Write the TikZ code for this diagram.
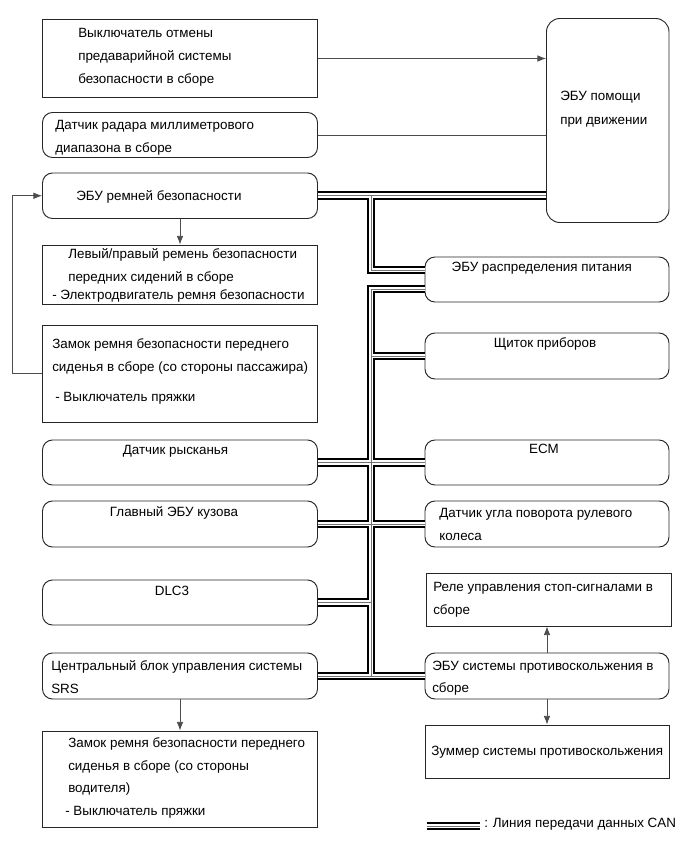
\documentclass[tikz,border=0pt]{standalone}
\usepackage{fontspec}
\setmainfont{Liberation Sans}
\usetikzlibrary{arrows.meta,calc,fit,positioning}

\tikzset{
  sqbox/.style={draw=black!85, line width=0.7pt, inner sep=0pt},
  rndbox/.style={sqbox, rounded corners=7.5pt},
  txt/.style={anchor=base west, inner sep=0pt, font=\fontsize{10.05}{12}\selectfont},
  ctxt/.style={txt, anchor=base},
  sig/.style={draw=black!70, line width=0.6pt},
  sigarrow/.style={sig, -{Latex[length=6.5pt,width=5pt]}},
}

\begin{document}
\begin{tikzpicture}[x=0.75pt,y=-0.75pt]
\useasboundingbox (0,0) rectangle (691,854);

% left column
\node[sqbox, fit={(42.5,19.5) (317.5,97.5)}] (sw) {};
\node[rndbox, fit={(42.5,112.5) (317.5,157.5)}] (radar) {};
\node[rndbox, fit={(42.5,173) (317.5,218.5)}] (belt) {};
\node[sqbox, fit={(42.5,245) (317.5,304)}] (beltmot) {};
\node[sqbox, fit={(42.5,325) (317.5,422)}] (buckleP) {};
\node[rndbox, fit={(42.5,440) (317.5,485)}] (yaw) {};
\node[rndbox, fit={(42.5,501) (317.5,547)}] (body) {};
\node[rndbox, fit={(42.5,580) (317.5,625)}] (dlc) {};
\node[rndbox, fit={(42.5,653) (317.5,699)}] (srs) {};
\node[sqbox, fit={(42.5,731) (317.5,827)}] (buckleD) {};
% right column
\node[rndbox, rounded corners=10pt, fit={(546.5,18.5) (669,222.5)}] (assist) {};
\node[rndbox, fit={(425,257) (669,302)}] (power) {};
\node[rndbox, fit={(425,333) (669,379)}] (panel) {};
\node[rndbox, fit={(425,440) (669,485)}] (ecm) {};
\node[rndbox, fit={(425,501) (669,547)}] (steer) {};
\node[sqbox, fit={(426,573) (671,626)}] (relay) {};
\node[rndbox, fit={(425,653) (669,699)}] (abs) {};
\node[sqbox, fit={(425,725) (669,778)}] (buzzer) {};

% texts
\node[txt] (sw-1) at (78,37.5) {Выключатель отмены};
\node[txt] (sw-2) at (78,60.5) {предаварийной системы};
\node[txt] (sw-3) at (78,83.5) {безопасности в сборе};
\node[txt] (radar-1) at (55,129.5) {Датчик радара миллиметрового};
\node[txt] (radar-2) at (55,152.5) {диапазона в сборе};
\node[txt] (belt-1) at (76,200) {ЭБУ ремней безопасности};
\node[txt] (beltmot-1) at (68,258.5) {Левый/правый ремень безопасности};
\node[txt] (beltmot-2) at (68,281.5) {передних сидений в сборе};
\node[txt] (beltmot-3) at (52,299.5) {- Электродвигатель ремня безопасности};
\node[txt] (buckleP-1) at (52,348.7) {Замок ремня безопасности переднего};
\node[txt] (buckleP-2) at (52,371) {сиденья в сборе (со стороны пассажира)};
\node[txt] (buckleP-3) at (55,401) {- Выключатель пряжки};
\node[ctxt] (yaw-1) at (175.5,454.3) {Датчик рысканья};
\node[ctxt] (body-1) at (174,516.7) {Главный ЭБУ кузова};
\node[ctxt] (dlc-1) at (172,595) {DLC3};
\node[txt] (srs-1) at (51,670.7) {Центральный блок управления системы};
\node[txt] (srs-2) at (51,693.3) {SRS};
\node[txt] (buckleD-1) at (68,747.7) {Замок ремня безопасности переднего};
\node[txt] (buckleD-2) at (68,770.2) {сиденья в сборе (со стороны};
\node[txt] (buckleD-3) at (68,792.7) {водителя)};
\node[txt] (buckleD-4) at (65,815.2) {- Выключатель пряжки};
\node[txt] (assist-1) at (560,100.7) {ЭБУ помощи};
\node[txt] (assist-2) at (560,124) {при движении};
\node[ctxt] (power-1) at (541.7,271.7) {ЭБУ распределения питания};
\node[ctxt] (panel-1) at (545,347.7) {Щиток приборов};
\node[ctxt] (ecm-1) at (544,453.3) {ECM};
\node[txt] (steer-1) at (439,517.5) {Датчик угла поворота рулевого};
\node[txt] (steer-2) at (439,540) {колеса};
\node[txt] (relay-1) at (433,591) {Реле управления стоп-сигналами в};
\node[txt] (relay-2) at (433,614) {сборе};
\node[txt] (abs-1) at (432,670) {ЭБУ системы противоскольжения в};
\node[txt] (abs-2) at (432,692.7) {сборе};
\node[txt] (buzzer-1) at (431,755) {Зуммер системы противоскольжения};

% legend
\coordinate (lgA) at (427,826);
\coordinate (lgB) at (480,826);
\node[txt] (lgtext) at (484,827.7) {: Линия передачи данных CAN};

% CAN bus, drawn in layers
\coordinate (trunk) at (371,0);
\foreach \w/\c in {6.6pt/black, 3.4pt/white, 0.6pt/black!55}
  \draw[line width=\w, \c]
    (belt.east) -- (belt.east -| assist.west)
    (trunk |- belt.east) |- ($(power.west)+(0,-9.5)$)
    ($(power.west)+(0,9.5)$) -| (trunk |- abs.west) -- (abs.west)
    (trunk |- panel.west) -- (panel.west)
    (yaw.east) -- (ecm.west)
    (body.east) -- (steer.west)
    (dlc.east) -- (trunk |- dlc.east)
    (srs.east) -- (trunk |- srs.east)
    (lgA) -- (lgB);

% signal lines
\draw[sigarrow] (sw.east) -- (sw.east -| assist.west);
\draw[sig] (radar.east) -- (radar.east -| assist.west);
\draw[sigarrow] (belt.south) -- (beltmot.north);
\draw[sigarrow] (buckleP.west) -- ++(-29.5,0) |- (belt.west);
\draw[sigarrow] (srs.south) -- (buckleD.north);
\draw[sigarrow] (abs.north) -- (abs.north |- relay.south);
\draw[sigarrow] (abs.south) -- (buzzer.north);
\end{tikzpicture}
\end{document}
